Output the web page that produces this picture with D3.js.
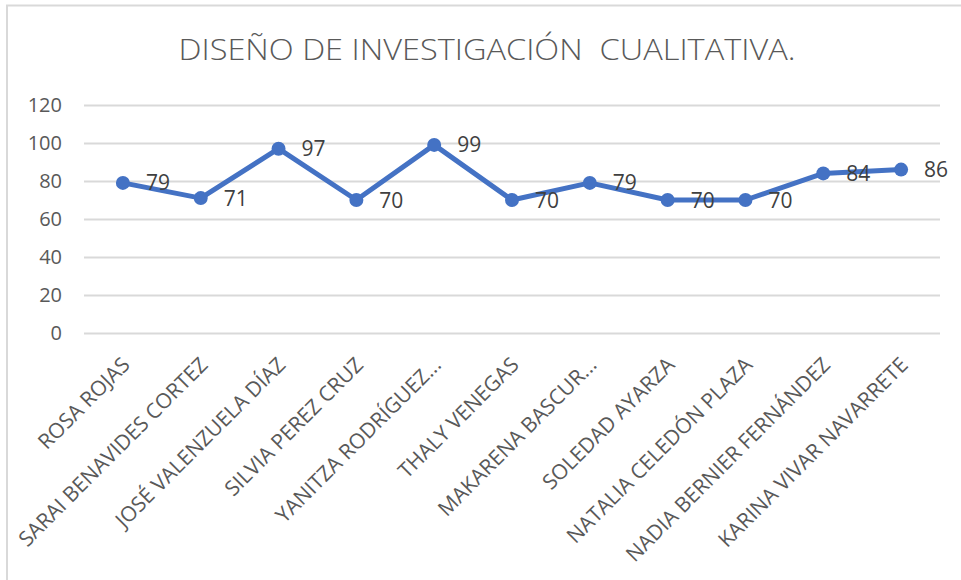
<!DOCTYPE html>
<html>
<head>
<meta charset="utf-8">
<script src="https://cdn.jsdelivr.net/npm/d3@7"></script>
<style>
  html, body { margin: 0; padding: 0; background: #fff; }
  svg { display: block; }
</style>
</head>
<body>
<svg id="chart" width="961" height="580"></svg>
<script>
const title = "DISEÑO DE INVESTIGACIÓN  CUALITATIVA.";
const categories = [
  "ROSA ROJAS",
  "SARAI BENAVIDES CORTEZ",
  "JOSÉ VALENZUELA DÍAZ",
  "SILVIA PEREZ CRUZ",
  "YANITZA RODRÍGUEZ...",
  "THALY VENEGAS",
  "MAKARENA BASCUR...",
  "SOLEDAD AYARZA",
  "NATALIA CELEDÓN PLAZA",
  "NADIA BERNIER FERNÁNDEZ",
  "KARINA VIVAR NAVARRETE"
];
const values = [79, 71, 97, 70, 99, 70, 79, 70, 70, 84, 86];
const yTicks = [0, 20, 40, 60, 80, 100, 120];

const svg = d3.select("#chart");
const W = 961, H = 580;
const plot = { left: 84, right: 940, top: 105, bottom: 333 };
const font = "'Open Sans', 'Liberation Sans', sans-serif";
const textColor = "#595959";

// frame
svg.append("rect").attr("x", 7).attr("y", 5.5).attr("width", W + 10).attr("height", H + 10)
  .attr("fill", "#fff").attr("stroke", "#d9d9d9").attr("stroke-width", 2);

const x = d3.scaleBand().domain(categories).range([plot.left, plot.right]).padding(0);
const y = d3.scaleLinear().domain([0, 120]).range([plot.bottom, plot.top]);

// gridlines
const yAxis = d3.axisLeft(y).tickValues(yTicks).tickSize(-(plot.right - plot.left)).tickPadding(16);
const gy = svg.append("g").attr("transform", `translate(${plot.left},0)`).call(yAxis);
gy.select(".domain").remove();
gy.selectAll(".tick line").attr("stroke", "#d9d9d9").attr("stroke-width", 2);
gy.selectAll(".tick text").attr("fill", textColor).style("font-family", font).style("font-size", "20px")
  .attr("x", -22);

// x axis labels
const xAxis = d3.axisBottom(x).tickSize(0).tickPadding(0);
const gx = svg.append("g").attr("transform", `translate(0,${plot.bottom})`).call(xAxis);
gx.select(".domain").remove();
gx.selectAll(".tick text")
  .attr("fill", textColor)
  .style("font-family", font).style("font-size", "21px")
  .attr("text-anchor", "end")
  .attr("x", 0).attr("y", 0).attr("dy", "0.35em")
  .attr("transform", "translate(3,28) rotate(-45)");

// line
const line = d3.line().x((d, i) => x(categories[i]) + x.bandwidth() / 2).y(d => y(d));
svg.append("path").datum(values).attr("d", line)
  .attr("fill", "none").attr("stroke", "#4472C4").attr("stroke-width", 5)
  .attr("stroke-linejoin", "round").attr("stroke-linecap", "round");

svg.selectAll("circle.pt").data(values).join("circle").attr("class", "pt")
  .attr("cx", (d, i) => x(categories[i]) + x.bandwidth() / 2)
  .attr("cy", d => y(d)).attr("r", 7).attr("fill", "#4472C4");

// data labels
svg.selectAll("text.lbl").data(values).join("text").attr("class", "lbl")
  .attr("x", (d, i) => x(categories[i]) + x.bandwidth() / 2 + 23)
  .attr("y", d => y(d)).attr("dy", "0.36em")
  .attr("fill", "#404040").style("font-family", font).style("font-size", "21px")
  .text(d => d);

// title
const t = svg.append("text").attr("x", 487).attr("y", 60).attr("text-anchor", "middle")
  .attr("fill", textColor).style("font-family", font).style("font-size", "30px").style("font-weight", 300)
  .style("white-space", "pre").attr("xml:space", "preserve")
  .text(title);
t.attr("textLength", 617).attr("lengthAdjust", "spacingAndGlyphs");
</script>
</body>
</html>
